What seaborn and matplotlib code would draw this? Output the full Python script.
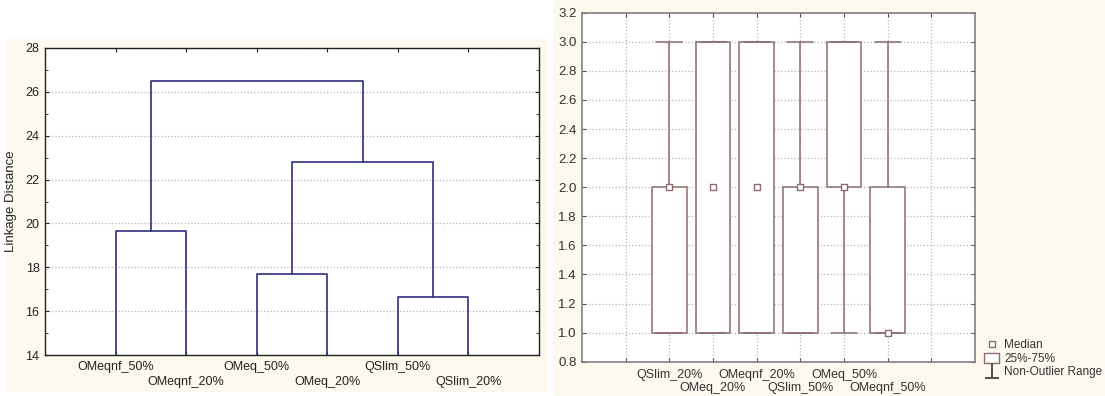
import matplotlib

matplotlib.use("Agg", force=True)
import matplotlib.pyplot as plt
import numpy as np
import pandas as pd
import seaborn as sns
from matplotlib.lines import Line2D
from matplotlib.patches import Patch, Rectangle
from matplotlib.ticker import FormatStrFormatter, MultipleLocator

# dendrogram data
leaf_labels = ["OMeqnf_50%", "OMeqnf_20%", "OMeq_50%", "OMeq_20%", "QSlim_50%", "QSlim_20%"]
# (child a, child b, height); ids >= 6 are earlier merges
merges = [(0, 1, 19.65), (2, 3, 17.7), (4, 5, 16.65), (7, 8, 22.8), (6, 9, 26.5)]
leaf_base = 14.0

# box plot data (already summarised)
box_labels = ["QSlim_20%", "OMeq_20%", "OMeqnf_20%", "QSlim_50%", "OMeq_50%", "OMeqnf_50%"]
box_q1 = [1.0, 1.0, 1.0, 1.0, 2.0, 1.0]
box_med = [2.0, 2.0, 2.0, 2.0, 2.0, 1.0]
box_q3 = [2.0, 3.0, 3.0, 2.0, 3.0, 2.0]
box_lo = [1.0, 1.0, 1.0, 1.0, 1.0, 1.0]
box_hi = [3.0, 3.0, 3.0, 3.0, 3.0, 3.0]

sns.set_style("white")
plt.rcParams["font.family"] = ["Liberation Sans", "DejaVu Sans"]
plt.rcParams["font.size"] = 9

cream = "#fdf9ee"
navy = "#2f2f7c"
mauve = "#8c6b6e"
grid_kw = dict(color="#b5b5b5", linestyle=":", linewidth=0.9)


def staggered_labels(ax, xs, labels, offsets, color, size=9):
    # two rows of labels under the axis, alternating
    for i, (x, lab) in enumerate(zip(xs, labels)):
        ax.annotate(lab, xy=(x, 0), xycoords=ax.get_xaxis_transform(),
                    xytext=(0, -offsets[i % 2]), textcoords="offset pixels",
                    ha="center", va="top", color=color, fontsize=size)


fig = plt.figure(figsize=(11.05, 3.96), dpi=100, facecolor="white")
W, H = 1105, 396
fig.patches.append(Rectangle((6 / W, 1 - 392 / H), 542 / W, 353 / H, transform=fig.transFigure,
                             facecolor=cream, edgecolor="none", zorder=-10))
fig.patches.append(Rectangle((553 / W, 0), 552 / W, 1, transform=fig.transFigure,
                             facecolor=cream, edgecolor="none", zorder=-10))

# ---------------- left: dendrogram ----------------
ax1 = fig.add_axes([45 / W, 1 - 355 / H, 494 / W, 307 / H])
ax1.set_facecolor("white")

pos = {i: (float(i + 1), leaf_base) for i in range(len(leaf_labels))}
rows = []
for k, (a, b, h) in enumerate(merges):
    xa, ya = pos[a]
    xb, yb = pos[b]
    for x, y in [(xa, ya), (xa, h), (xb, h), (xb, yb)]:
        rows.append({"link": k, "x": x, "y": y})
    pos[len(leaf_labels) + k] = ((xa + xb) / 2, h)
links = pd.DataFrame(rows)
sns.lineplot(data=links, x="x", y="y", units="link", estimator=None, sort=False,
             color=navy, linewidth=1.2, ax=ax1)

leaf_x = np.arange(1, len(leaf_labels) + 1)
ax1.set_xlim(0, 7)
ax1.set_ylim(14, 28)
ax1.set_xticks(leaf_x)
ax1.set_xticklabels([])
staggered_labels(ax1, leaf_x, leaf_labels, (6, 21), "#222222")
ax1.yaxis.set_major_locator(MultipleLocator(2))
ax1.yaxis.set_minor_locator(MultipleLocator(1))
ax1.grid(axis="y", which="major", **grid_kw)
ax1.set_xlabel("")
ax1.set_ylabel("Linkage Distance", labelpad=6, fontsize=9.5)
ax1.tick_params(direction="in", length=3, top=True, right=True, left=True, bottom=True,
                colors="#222222", labelsize=9, pad=4)
ax1.tick_params(which="minor", direction="in", length=2, left=True, right=True)
for s in ax1.spines.values():
    s.set_color("#222222")
    s.set_linewidth(1.0)

# ---------------- right: box plot ----------------
ax2 = fig.add_axes([582 / W, 1 - 361.7 / H, 393 / W, 349 / H])
ax2.set_facecolor("white")
stats = [
    {"label": lab, "q1": q1, "med": m, "q3": q3, "whislo": lo, "whishi": hi, "fliers": []}
    for lab, q1, m, q3, lo, hi in zip(box_labels, box_q1, box_med, box_q3, box_lo, box_hi)
]
positions = np.arange(len(box_labels))
line_kw = dict(color=mauve, linewidth=1.1)
ax2.bxp(stats, positions=positions, widths=0.8, capwidths=0.6, showfliers=False,
        patch_artist=True,
        boxprops=dict(facecolor="white", edgecolor=mauve, linewidth=1.1),
        whiskerprops=line_kw, capprops=line_kw, medianprops=dict(visible=False),
        zorder=3)
sns.scatterplot(x=positions, y=box_med, marker="s", s=20, color="white",
                edgecolor=mauve, linewidth=1.0, ax=ax2, zorder=5)

ax2.set_xlim(-2, len(box_labels) + 1)
ax2.set_ylim(0.8, 3.2)
ax2.set_xticks(np.arange(-1, len(box_labels) + 1))
ax2.set_xticklabels([])
staggered_labels(ax2, positions, box_labels, (7, 20), "#333333")
ax2.yaxis.set_major_locator(MultipleLocator(0.2))
ax2.yaxis.set_major_formatter(FormatStrFormatter("%.1f"))
ax2.grid(True, **grid_kw)
ax2.set_axisbelow(True)
ax2.tick_params(direction="in", length=3, top=True, right=True, left=True, bottom=True,
                colors="#555555", labelsize=9.5, pad=4)
ax2.tick_params(axis="both", labelcolor="#333333")
for s in ax2.spines.values():
    s.set_color("#808080")
    s.set_linewidth(1.2)

handles = [
    Line2D([], [], marker="s", linestyle="none", markerfacecolor="white",
           markeredgecolor=mauve, markersize=4),
    Patch(facecolor="white", edgecolor=mauve),
    Line2D([], [], marker=r"$\perp$", linestyle="none", color="#555555",
           markersize=11, markeredgewidth=0),
]
fig.legend(handles, ["Median", "25%-75%", "Non-Outlier Range"], loc="upper left",
           bbox_to_anchor=(984 / W, 1 - 339 / H), frameon=False, fontsize=8.5,
           handlelength=1.3, handleheight=1.0, handletextpad=0.4, labelspacing=0.1,
           borderpad=0, borderaxespad=0, labelcolor="#333333")

fig.savefig("out.png", dpi=100, facecolor=fig.get_facecolor())
